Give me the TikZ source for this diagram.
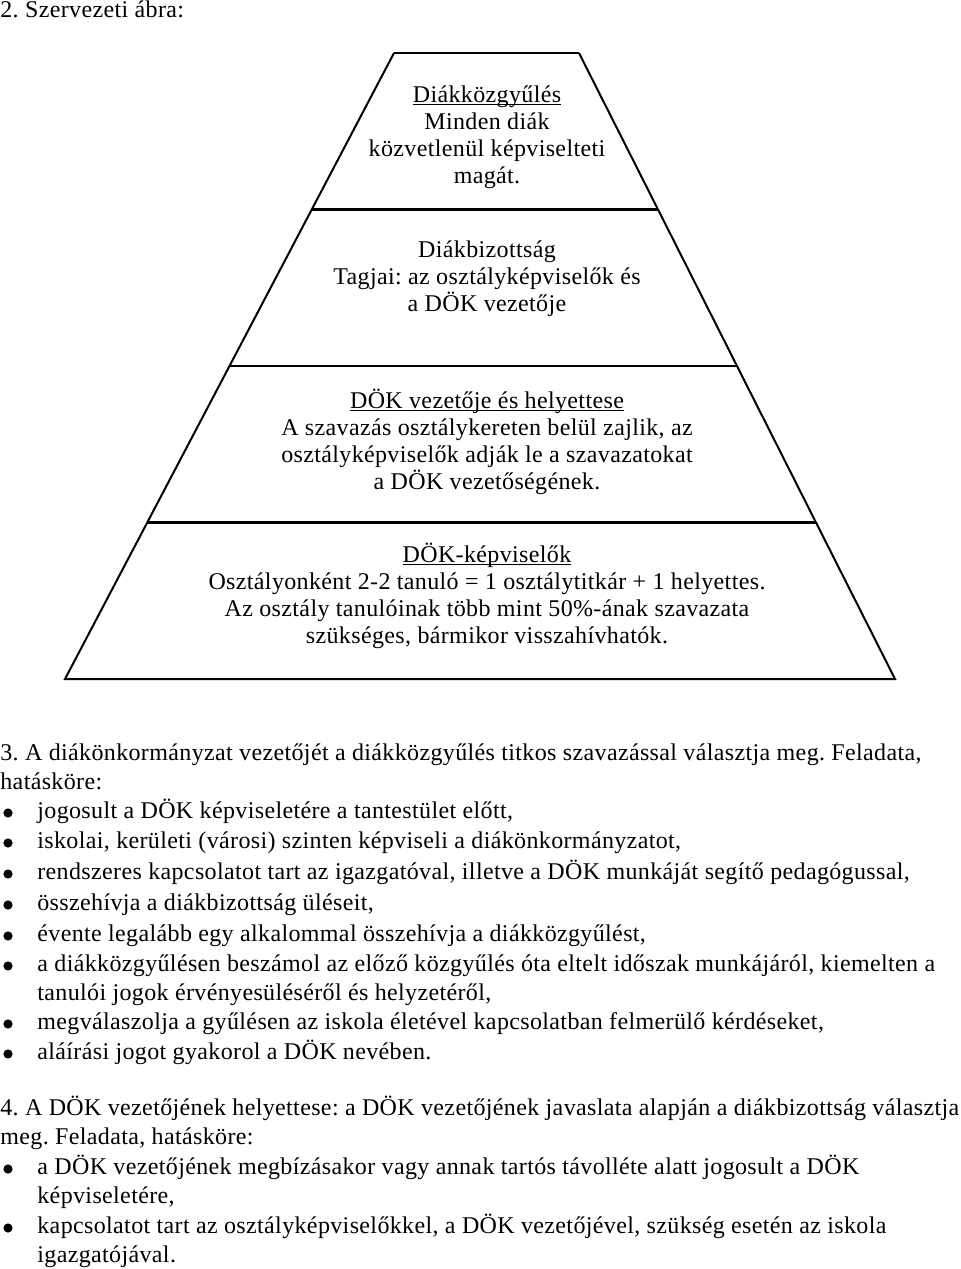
\documentclass[tikz,border=0pt]{standalone}
\usepackage{fontspec}
\setmainfont[LetterSpace=1.5]{Liberation Serif}
\usetikzlibrary{calc}
\frenchspacing
\newcommand\ulword[1]{\setbox0\hbox{#1}\rlap{\rule[-1.6pt]{\wd0}{0.5pt}}\box0}
\begin{document}
\begin{tikzpicture}[
  x=0.5pt, y=-0.5pt,
  font=\fontsize{12}{14.5}\selectfont,
  side/.style={line width=1pt},
  divider/.style={line width=1.4pt},
  lvl/.style={align=center, inner sep=0pt, anchor=base, font=\fontsize{12}{13.5}\selectfont},
  para/.style={align=left, inner sep=0pt, anchor=base west},
  dot/.style={circle, fill, inner sep=0pt, minimum size=4.6pt}
]
\useasboundingbox (0,0) rectangle (960,1269);

\node[para] (title) at (0,18) {2. Szervezeti ábra:};

% pyramid
\coordinate (tl) at (394,53);
\coordinate (tr) at (579,53);
\coordinate (bl) at (65,679);
\coordinate (br) at (895,679);
\coordinate (l1) at ($(tl)!0.25!(bl)$);
\coordinate (r1) at ($(tr)!0.25!(br)$);
\coordinate (l2) at ($(tl)!0.5!(bl)$);
\coordinate (r2) at ($(tr)!0.5!(br)$);
\coordinate (l3) at ($(tl)!0.75!(bl)$);
\coordinate (r3) at ($(tr)!0.75!(br)$);
\draw[side] (tl) -- (bl) -- (br) -- (tr);
\draw[divider] (tl) -- (tr);
\draw[divider] (l1) -- (r1);
\draw[divider] (l2) -- (r2);
\draw[divider] (l3) -- (r3);

% texts sit on the baseline of their last line
\node[lvl] (gyules) at (487,183)
  {\ulword{Diákközgyűlés}\\ Minden diák\\ közvetlenül képviselteti\\ magát.};
\node[lvl] (bizottsag) at (487,311)
  {Diákbizottság\\ Tagjai: az osztályképviselők és\\ a DÖK vezetője};
\node[lvl] (vezeto) at (487,489)
  {\ulword{DÖK vezetője és helyettese}\\ A szavazás osztálykereten belül zajlik, az\\
   osztályképviselők adják le a szavazatokat\\ a DÖK vezetőségének.};
\node[lvl] (kepviselok) at (487,643)
  {\ulword{DÖK-képviselők}\\ Osztályonként 2-2 tanuló = 1 osztálytitkár + 1 helyettes.\\
   Az osztály tanulóinak több mint 50\%-ának szavazata\\ szükséges, bármikor visszahívhatók.};

% section 3
\node[para] (p3) at (0,789)
  {3. A diákönkormányzat vezetőjét a diákközgyűlés titkos szavazással választja meg. Feladata,\\
   hatásköre:};
\node[dot] (d1) at (8,813) {};
\node[para] (i1) at (37,818) {jogosult a DÖK képviseletére a tantestület előtt,};
\node[dot] (d2) at (8,843) {};
\node[para] (i2) at (37,848) {iskolai, kerületi (városi) szinten képviseli a diákönkormányzatot,};
\node[dot] (d3) at (8,874) {};
\node[para] (i3) at (37,879) {rendszeres kapcsolatot tart az igazgatóval, illetve a DÖK munkáját segítő pedagógussal,};
\node[dot] (d4) at (8,905) {};
\node[para] (i4) at (37,910) {összehívja a diákbizottság üléseit,};
\node[dot] (d5) at (8,936) {};
\node[para] (i5) at (37,941) {évente legalább egy alkalommal összehívja a diákközgyűlést,};
\node[dot] (d6) at (8,966) {};
\node[para] (i6) at (37,1000)
  {a diákközgyűlésen beszámol az előző közgyűlés óta eltelt időszak munkájáról, kiemelten a\\
   tanulói jogok érvényesüléséről és helyzetéről,};
\node[dot] (d7) at (8,1024) {};
\node[para] (i7) at (37,1029) {megválaszolja a gyűlésen az iskola életével kapcsolatban felmerülő kérdéseket,};
\node[dot] (d8) at (8,1054) {};
\node[para] (i8) at (37,1059) {aláírási jogot gyakorol a DÖK nevében.};

% section 4
\node[para] (p4) at (0,1144)
  {4. A DÖK vezetőjének helyettese: a DÖK vezetőjének javaslata alapján a diákbizottság választja\\
   meg. Feladata, hatásköre:};
\node[dot] (d9) at (8,1169) {};
\node[para] (i9) at (37,1203)
  {a DÖK vezetőjének megbízásakor vagy annak tartós távolléte alatt jogosult a DÖK\\ képviseletére,};
\node[dot] (d10) at (8,1228) {};
\node[para] (i10) at (37,1262)
  {kapcsolatot tart az osztályképviselőkkel, a DÖK vezetőjével, szükség esetén az iskola\\ igazgatójával.};
\end{tikzpicture}
\end{document}
